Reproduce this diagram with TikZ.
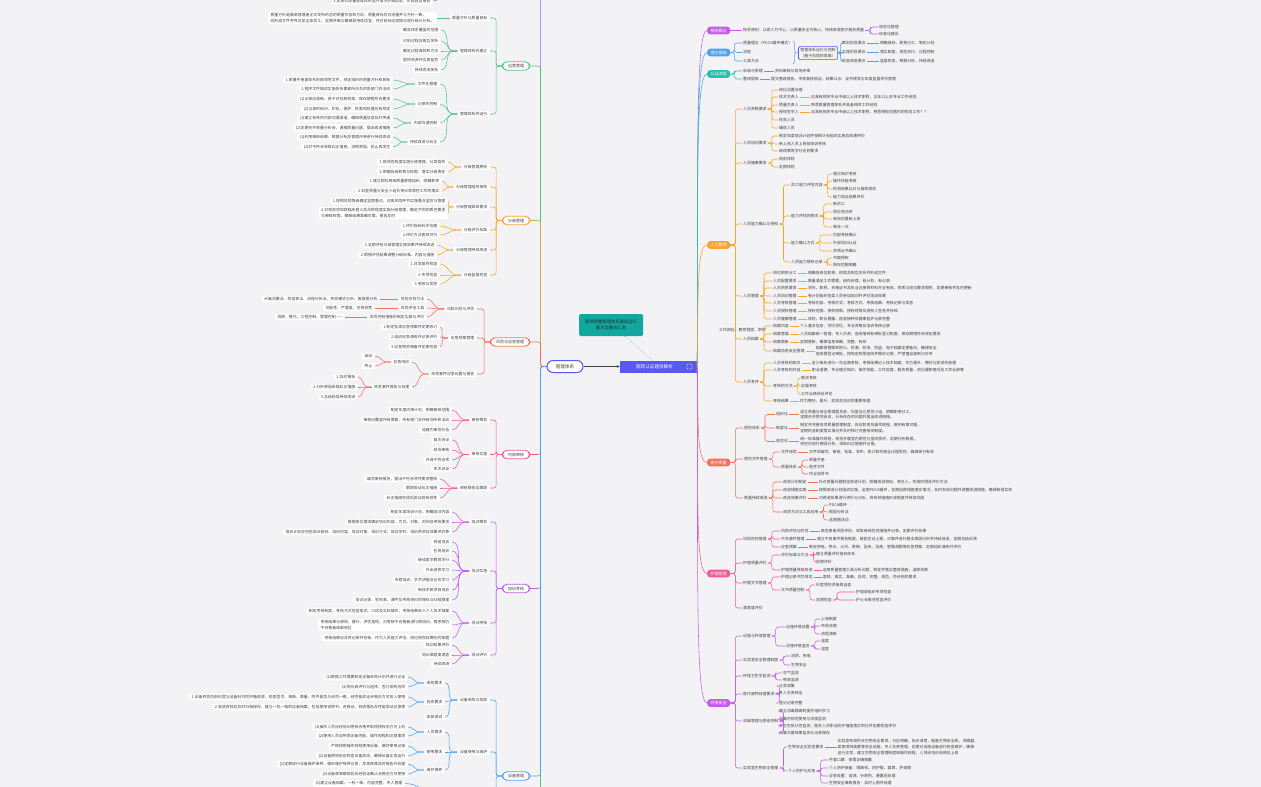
\documentclass[tikz,border=0pt]{standalone}
\usepackage{fontspec}
\newfontfamily\cjk{Noto Sans CJK SC}
\usetikzlibrary{arrows.meta,positioning,calc,decorations.pathreplacing}
\definecolor{bgGray}{RGB}{243,243,246}
\definecolor{txtGray}{RGB}{64,64,64}
\definecolor{cRoot}{RGB}{88,88,242}
\definecolor{cNote}{RGB}{18,168,160}
\definecolor{cGreen}{RGB}{86,196,136}
\definecolor{cOrange}{RGB}{246,164,52}
\definecolor{cRed}{RGB}{242,112,92}
\definecolor{cPink}{RGB}{240,92,150}
\definecolor{cPurple}{RGB}{192,96,232}
\definecolor{cBlue}{RGB}{78,162,242}
\definecolor{cTeal}{RGB}{44,190,172}
\definecolor{cLav}{RGB}{160,160,250}
\tikzset{
  txt/.style={font=\cjk\fontsize{3.9}{5.6}\selectfont, text=txtGray, inner sep=1pt},
  rtxt/.style={txt, anchor=west, align=left},
  ltxt/.style={txt, anchor=east, align=left, fill=white, rounded corners=2pt, inner xsep=2.5pt, inner ysep=1.4pt},
  rcat/.style={font=\cjk\fontsize{4}{5}\selectfont, text=white, anchor=west, rounded corners=3pt, inner xsep=3.5pt, inner ysep=2pt},
  lcat/.style={font=\cjk\fontsize{4}{5}\selectfont, text=txtGray, anchor=east, draw, fill=white, line width=0.9pt, rounded corners=4.5pt, inner xsep=5.5pt, inner ysep=2.4pt},
  rootbox/.style={font=\cjk\fontsize{4.6}{5.5}\selectfont, text=white, fill=cRoot, minimum width=77pt, minimum height=12pt, inner sep=0pt},
  sysbox/.style={font=\cjk\fontsize{4.6}{5.5}\selectfont, text=txtGray, draw=cRoot, line width=1pt, fill=white, rounded corners=6pt, minimum width=36pt, minimum height=12pt, inner sep=0pt},
  notebox/.style={font=\cjk\fontsize{4.3}{6.4}\selectfont, text=black!85, fill=cNote, rounded corners=1.5pt, minimum width=64pt, minimum height=22pt, align=center, inner sep=1pt},
  br/.style={line width=0.55pt, rounded corners=2.5pt},
  cv/.style={line width=0.55pt},
}
\begin{document}
\begin{tikzpicture}[x=1pt,y=-1pt]
\useasboundingbox (0,0) rectangle (1261,787);
\fill[bgGray] (0,0) rectangle (1261,787);
\clip (0,0) rectangle (1261,787);

% centre
\node[rootbox] (root) at (658.5,366.5) {\hspace*{6pt}医院认证题目解析\hspace*{14pt}};
\node[draw=white, line width=0.4pt, rounded corners=0.8pt, minimum size=5pt, inner sep=0pt] (rootIcon) at (689.5,366.5) {};
\node[sysbox] (sys) at (565,366.5) {管理体系};
\node[notebox] (note) at (611,325) {医院质量管理体系建设运行\\重点及要点汇总};
\draw[-{Stealth[length=3pt,width=2.6pt]}, line width=0.5pt, black!75] (sys) -- (root);
\draw[cNote, dotted, line width=0.6pt] ($(note.south)+(14,0)$) -- ($(root.north)+(-6,0)$);

% right categories
\node[rcat, fill=cPurple] (gainian) at (707,30.5) {相关概念};
\node[rcat, fill=cBlue] (lilun) at (707,52.5) {理论基础};
\node[rcat, fill=cTeal] (liucheng) at (707,74) {认证流程};
\node[rcat, fill=cOrange] (renli) at (707,245) {人力管理};
\node[rcat, fill=cRed] (yiliao) at (707,462.5) {医疗质量};
\node[rcat, fill=cPink] (huli) at (707,573.5) {护理管理};
\node[rcat, fill=cPurple] (huanjing) at (707,703) {环境安全};
\draw[cv,cPurple] (root.east) .. controls +(1,-200) and +(-12,0) .. (gainian.west);
\draw[cv,cBlue] (root.east) .. controls +(1,-190) and +(-12,0) .. (lilun.west);
\draw[cv,cTeal] (root.east) .. controls +(1,-175) and +(-12,0) .. (liucheng.west);
\draw[cv,cOrange] (root.east) .. controls +(1,-75) and +(-10,0) .. (renli.west);
\draw[cv,cRed] (root.east) .. controls +(1,58) and +(-10,0) .. (yiliao.west);
\draw[cv,cPink] (root.east) .. controls +(1,125) and +(-12,0) .. (huli.west);
\draw[cv,cPurple] (root.east) .. controls +(1,200) and +(-12,0) .. (huanjing.west);

% 相关概念
\node[rtxt] (gn1) at (742,30.5) {指导原则：以病人为中心，以质量安全为核心，持续改进医疗服务质量};
\draw[cv,cPurple] (gainian.east) -- (gn1.west);
\node[rtxt] (gn1a) at (878,27) {规范化管理};
\node[rtxt] (gn1b) at (878,34) {标准化建设};
\foreach \n in {gn1a,gn1b} \draw[br,cPurple] (gn1.east) -- ++(5,0) |- (\n.west);

% 理论基础
\foreach \y/\t [count=\i] in {43/质量理念（PDCA循环模式）, 52.5/流程, 61/工具方法} {
  \node[rtxt] (ll\i) at (742,\y) {\t};
  \draw[br,cBlue] (lilun.east) -- ++(4,0) |- (ll\i.west);
}
\draw[cBlue, line width=0.5pt, decorate, decoration={brace,amplitude=3pt}] (793,41) -- (793,64);
\coordinate (llTip) at (796.5,52.5);
\node[txt, draw=cRoot, line width=0.6pt, rounded corners=1.5pt, align=center, inner sep=2pt] (llBox) at (818,53) {管理体系运行与控制\\（基于风险的思维）};
\draw[cv,cBlue] (llTip) -- (llBox.west);
\foreach \y/\t/\u [count=\i] in {43/策划阶段要点/明确目标、职责分工、制定计划, 52.5/实施阶段要点/落实制度、规范执行、过程控制, 61/检查改进要点/监督检查、数据分析、持续改进} {
  \node[rtxt] (llk\i) at (841,\y) {\t};
  \draw[br,cBlue] (llBox.east) -- ++(2.5,0) |- (llk\i.west);
  \node[rtxt, right=12pt of llk\i] (llk\i t) {\u};
  \draw[cv,cBlue] (llk\i.east) -- (llk\i t.west);
}

% 认证流程
\node[rtxt] (lc1) at (742,71) {申请与受理};
\node[rtxt] (lc2) at (742,79) {整改提高};
\foreach \n in {lc1,lc2} \draw[br,cTeal] (liucheng.east) -- ++(4,0) |- (\n.west);
\node[rtxt, right=10pt of lc1] (lc1t) {资料审核与现场评审};
\node[rtxt, right=10pt of lc2] (lc2t) {提交整改报告、专家复核验证、结果公示、证书颁发与年度监督评价管理};
\draw[cv,cTeal] (lc1.east) -- (lc1t.west);
\draw[cv,cTeal] (lc2.east) -- (lc2t.west);

% 人力管理
\node[rtxt] (rA) at (742,109) {人员资格要求};
\node[rtxt] (rB) at (742,143) {人员培训要求};
\node[rtxt] (rC) at (742,163) {人员健康要求};
\node[rtxt] (rD) at (742,224) {人员能力确认与授权};
\node[rtxt] (rE) at (742,296) {人员管理};
\node[rtxt] (rF) at (742,339) {人员档案};
\node[rtxt] (rG) at (742,382) {人员考评};
\foreach \n in {rA,rB,rC,rD,rE,rF,rG} \draw[br,cOrange] (renli.east) -- ++(5,0) |- (\n.west);
\node[rtxt] (rX) at (718,330) {工作岗位、教育程度、职称};
\foreach \y/\t [count=\i] in {90/岗位设置合理, 97/技术负责人, 105/质量负责人, 112/授权签字人, 120/检验人员, 128/辅助人员} {
  \node[rtxt] (rA\i) at (778,\y) {\t};
  \draw[br,cOrange] (rA.east) -- ++(4,0) |- (rA\i.west);
}
\foreach \i/\u in {2/应具有相关专业中级以上技术职称，五年以上本专业工作经验, 3/熟悉质量管理体系并具备相关工作经验, 4/应具有相关专业中级以上技术职称，熟悉授权范围内的检验工作？？} {
  \node[rtxt, right=10pt of rA\i] (rA\i t) {\u};
  \draw[cv,cOrange] (rA\i.east) -- (rA\i t.west);
}
\foreach \y/\t [count=\i] in {136/制定年度培训计划并按照计划组织实施及效果评价, 144/新上岗人员上岗前培训考核, 151/继续教育学分达到要求} {
  \node[rtxt] (rB\i) at (778,\y) {\t};
  \draw[br,cOrange] (rB.east) -- ++(4,0) |- (rB\i.west);
}
\foreach \y/\t [count=\i] in {159/岗前体检, 167/定期体检} {
  \node[rtxt] (rC\i) at (778,\y) {\t};
  \draw[br,cOrange] (rC.east) -- ++(4,0) |- (rC\i.west);
}
\foreach \y/\t [count=\i] in {185/员工能力评估内容, 216/能力评估的频次, 243/能力确认方式, 262/人员能力授权记录} {
  \node[rtxt] (rD\i) at (790,\y) {\t};
  \draw[br,cOrange] (rD.east) -- ++(4,0) |- (rD\i.west);
}
\foreach \p/\y/\t in {1/174/理论知识考核, 1/181/操作技能考核, 1/189/检测结果比对与留样再测, 1/197/能力验证结果评价,
                      2/204/新员工, 2/212/岗位变动时, 2/219/离岗后重新上岗, 2/227/每年一次,
                      3/235/内部考核确认, 3/243/外部培训认证, 3/251/资质证书确认,
                      4/258/书面授权, 4/265/授权范围明确} {
  \node[rtxt] (rDl\y) at (832,\y) {\t};
  \draw[br,cOrange] (rD\p.east) -- ++(4,0) |- (rDl\y.west);
}
\foreach \y/\t/\u [count=\i] in {273/岗位职责分工/明确各岗位职责、权限及相互关系并形成文件,
                               281/人员配置要求/数量满足工作需要，结构合理，有计划，有记录,
                               288/人员资质要求/学历、职称、资格证书及执业注册等材料齐全有效，资质与岗位要求相符，定期审核并及时更新,
                               296/人员培训管理/有计划组织各类人员参加培训并评价培训效果,
                               303/人员考核管理/考核内容、考核形式、考核方式、考核结果、考核记录与奖惩,
                               311/人员授权管理/授权范围、授权权限、授权时限及授权人签名并存档,
                               319/人员健康管理/体检、职业暴露、疫苗接种及健康监护记录完整} {
  \node[rtxt] (rE\i) at (772,\y) {\t};
  \draw[br,cOrange] (rE.east) -- ++(4,0) |- (rE\i.west);
  \node[rtxt, right=9pt of rE\i] (rE\i t) {\u};
  \draw[cv,cOrange] (rE\i.east) -- (rE\i t.west);
}
\foreach \y/\t/\u [count=\i] in {326/档案内容/个人基本信息、学历学位、专业资格及培训考核记录,
                               334/档案管理/人员档案统一管理，专人负责，查阅借阅有审批登记制度，保存期限符合规定要求,
                               342/档案更新/定期更新，确保信息准确、完整、有效,
                               351/档案信息安全管理/{档案保管做到防火、防潮、防虫、防盗，电子档案定期备份，确保安全\\查阅需登记审批，按规定权限查阅并做好记录，严禁擅自复制与外传}} {
  \node[rtxt] (rF\i) at (772,\y) {\t};
  \draw[br,cOrange] (rF.east) -- ++(4,0) |- (rF\i.west);
  \node[rtxt, right=9pt of rF\i] (rF\i t) {\u};
  \draw[cv,cOrange] (rF\i.east) -- (rF\i t.west);
}
\foreach \y/\t [count=\i] in {363/人员考核的频次, 370/人员考核的内容, 386/考核的方式, 401/考核结果} {
  \node[rtxt] (rG\i) at (772,\y) {\t};
  \draw[br,cOrange] (rG.east) -- ++(4,0) |- (rG\i.west);
}
\foreach \i/\u in {1/至少每年进行一次全面考核，考核结果记入技术档案，作为晋升、聘任与奖惩的依据,
                   2/职业道德、专业理论知识、操作技能、工作态度、服务质量、岗位履职情况及工作业绩等,
                   4/作为聘任、晋升、奖惩及培训的重要依据} {
  \node[rtxt, right=9pt of rG\i] (rG\i t) {\u};
  \draw[cv,cOrange] (rG\i.east) -- (rG\i t.west);
}
\foreach \y/\t in {378/笔试考核, 386/实操考核, 394/工作业绩综合评定} {
  \node[rtxt] (rGl\y) at (800,\y) {\t};
  \draw[br,cOrange] (rG3.east) -- ++(4,0) |- (rGl\y.west);
}

% 医疗质量
\node[rtxt] (ylA) at (743,428) {质控体系};
\node[rtxt] (ylB) at (743,459) {质控文件管理};
\node[rtxt] (ylC) at (743,498) {质量持续改进};
\foreach \n in {ylA,ylB,ylC} \draw[br,cRed] (yiliao.east) -- ++(5,0) |- (\n.west);
\foreach \y/\t/\u [count=\i] in {414.5/组织化/{成立质量与安全管理委员会，科室设立质控小组，明确职责分工，\\定期召开质控会议，分析存在的问题并提出改进措施。},
                               428/制度化/{制定并完善各项质量管理制度、岗位职责及操作规程，做到有章可循，\\定期检查制度落实情况并及时修订完善相关制度。},
                               441.5/规范化/{统一标准操作规程，规范开展室内质控与室间质评，定期分析数据，\\失控时进行原因分析，采取纠正措施并记录。}} {
  \node[rtxt] (ylA\i) at (775,\y) {\t};
  \draw[br,cRed] (ylA.east) -- ++(4,0) |- (ylA\i.west);
  \node[rtxt, right=10pt of ylA\i] (ylA\i t) {\u};
  \draw[cv,cRed] (ylA\i.east) -- (ylA\i t.west);
}
\node[rtxt] (ylB1) at (780,452) {文件规范};
\node[rtxt] (ylB2) at (780,467) {质量体系};
\foreach \n in {ylB1,ylB2} \draw[br,cRed] (ylB.east) -- ++(4,0) |- (\n.west);
\node[rtxt, right=10pt of ylB1] (ylB1t) {文件的编写、审核、批准、发布、修订和作废全过程受控，确保现行有效};
\draw[cv,cRed] (ylB1.east) -- (ylB1t.west);
\foreach \y/\t in {460/质量手册, 467/程序文件, 474/作业指导书} {
  \node[rtxt] (ylBl\y) at (808,\y) {\t};
  \draw[br,cRed] (ylB2.east) -- ++(4,0) |- (ylBl\y.west);
}
\foreach \y/\t [count=\i] in {482/改进计划制定, 490/改进措施实施, 498/改进效果评价, 512/改进方法与工具应用} {
  \node[rtxt] (ylC\i) at (782,\y) {\t};
  \draw[br,cRed] (ylC.east) -- ++(4,0) |- (ylC\i.west);
}
\foreach \i/\u in {1/针对质量问题制定改进计划，明确改进目标、责任人、完成时限及评价方法,
                   2/按照改进计划组织实施，运用PDCA循环，定期追踪措施落实情况，及时发现问题并调整改进措施，确保取得实效,
                   3/对改进效果进行评价与分析，将有效措施形成制度并持续巩固} {
  \node[rtxt, right=10pt of ylC\i] (ylC\i t) {\u};
  \draw[cv,cRed] (ylC\i.east) -- (ylC\i t.west);
}
\foreach \y/\t in {505/PDCA循环, 512/根因分析法, 520/品管圈活动} {
  \node[rtxt] (ylCl\y) at (828,\y) {\t};
  \draw[br,cRed] (ylC4.east) -- ++(4,0) |- (ylCl\y.west);
}

% 护理管理
\node[rtxt] (hlA) at (742,539) {风险防控管理};
\node[rtxt] (hlB) at (742,563) {护理质量评价};
\node[rtxt] (hlC) at (742,583) {护理文书管理};
\node[rtxt] (hlD) at (742,608) {满意度评价};
\foreach \n in {hlA,hlB,hlC,hlD} \draw[br,cPink] (huli.east) -- ++(5,0) |- (\n.west);
\foreach \y/\t/\u [count=\i] in {531/风险评估与防范/高危患者风险评估，采取有效防范措施并记录，定期评价效果,
                               539/不良事件管理/建立不良事件报告制度，鼓励主动上报，对事件进行根本原因分析并持续改进，定期总结反馈,
                               547/应急预案/制定停电、停水、火灾、跌倒、坠床、压疮、管路滑脱等应急预案，定期组织演练并评价} {
  \node[rtxt] (hlA\i) at (780,\y) {\t};
  \draw[br,cPink] (hlA.east) -- ++(4,0) |- (hlA\i.west);
  \node[rtxt, right=10pt of hlA\i] (hlA\i t) {\u};
  \draw[cv,cPink] (hlA\i.east) -- (hlA\i t.west);
}
\node[rtxt] (hlB1) at (780,555) {评价标准与方法};
\node[rtxt] (hlB2) at (780,570) {护理质量持续改进};
\foreach \n in {hlB1,hlB2} \draw[br,cPink] (hlB.east) -- ++(4,0) |- (\n.west);
\foreach \y/\t in {554/建立质量评价指标体系, 562/定期评价} {
  \node[rtxt] (hlBl\y) at (815,\y) {\t};
  \draw[br,cPink] (hlB1.east) -- ++(4,0) |- (hlBl\y.west);
}
\node[rtxt, right=8pt of hlB2] (hlB2t) {运用质量管理工具分析问题，制定并落实整改措施，追踪效果};
\draw[cv,cPink] (hlB2.east) -- (hlB2t.west);
\node[rtxt] (hlC1) at (780,577) {护理记录书写规范};
\node[rtxt] (hlC2) at (780,590) {文书质量控制};
\foreach \n in {hlC1,hlC2} \draw[br,cPink] (hlC.east) -- ++(4,0) |- (\n.west);
\node[rtxt, right=8pt of hlC1] (hlC1t) {客观、真实、准确、及时、完整、规范，符合相关要求};
\draw[cv,cPink] (hlC1.east) -- (hlC1t.west);
\node[rtxt] (hlC2a) at (815,585) {科室质控员每周自查};
\node[rtxt] (hlC2b) at (815,600) {定期检查};
\foreach \n in {hlC2a,hlC2b} \draw[br,cPink] (hlC2.east) -- ++(4,0) |- (\n.west);
\foreach \y/\t in {592/护理部组织专项检查, 600/护士长每月检查评价} {
  \node[rtxt] (hlCl\y) at (855,\y) {\t};
  \draw[br,cPink] (hlC2b.east) -- ++(4,0) |- (hlCl\y.west);
}

% 环境安全
\node[rtxt] (hjA) at (742,636) {设施与环境管理};
\node[rtxt] (hjB) at (742,660) {实验室安全管理制度};
\node[rtxt] (hjC) at (742,676) {环境卫生学监测};
\node[rtxt] (hjD) at (742,694) {医疗废物处理要求};
\node[rtxt] (hjE) at (742,721) {消毒管理与感染控制};
\node[rtxt] (hjF) at (742,768) {实验室生物安全管理};
\foreach \n in {hjA,hjB,hjC,hjD,hjE,hjF} \draw[br,cPurple] (huanjing.east) -- ++(5,0) |- (\n.west);
\node[rtxt] (hjA1) at (785,627) {设施环境设置};
\node[rtxt] (hjA2) at (785,646) {设施环境监控};
\foreach \n in {hjA1,hjA2} \draw[br,cPurple] (hjA.east) -- ++(4,0) |- (\n.west);
\foreach \p/\y/\t in {1/619/上墙制度, 1/626/布局合理, 1/634/流程清晰, 2/641/温度, 2/649/湿度} {
  \node[rtxt] (hjAl\y) at (820,\y) {\t};
  \draw[br,cPurple] (hjA\p.east) -- ++(4,0) |- (hjAl\y.west);
}
\foreach \y/\t in {656/消防、用电, 665/生物安全} {
  \node[rtxt] (hjBl\y) at (790,\y) {\t};
  \draw[br,cPurple] (hjB.east) -- ++(4,0) |- (hjBl\y.west);
}
\foreach \y/\t in {673/空气监测, 680/物表监测} {
  \node[rtxt] (hjCl\y) at (782,\y) {\t};
  \draw[br,cPurple] (hjC.east) -- ++(4,0) |- (hjCl\y.west);
}
\foreach \y/\t in {686/分类收集, 693/专人负责转运, 703/登记记录完整} {
  \node[rtxt] (hjDl\y) at (778,\y) {\t};
  \draw[br,cPurple] (hjD.east) -- ++(4,0) |- (hjDl\y.west);
}
\foreach \y/\t in {711/建立消毒隔离制度并组织学习, 719/消毒剂规范使用与浓度监测, 726/手卫生依从性监测，医务人员职业防护措施落实到位并定期检查评价, 733/消毒灭菌效果监测与记录保存} {
  \node[rtxt] (hjEl\y) at (778,\y) {\t};
  \draw[br,cPurple] (hjE.east) -- ++(4,0) |- (hjEl\y.west);
}
\node[rtxt] (hjF1) at (787,747) {生物安全实验室要求};
\node[rtxt] (hjF2) at (787,771) {个人防护与应急};
\foreach \n in {hjF1,hjF2} \draw[br,cPurple] (hjF.east) -- ++(4,0) |- (\n.west);
\node[rtxt, right=12pt of hjF1] (hjF1t) {实验室布局符合生物安全要求，分区明确，标识清楚，配备生物安全柜、洗眼器、\\紧急喷淋装置等安全设施，专人负责管理，定期对设施设备进行检查维护，确保\\运行正常，建立生物安全管理制度和操作规程，人员经培训合格后上岗};
\draw[cv,cPurple] (hjF1.east) -- (hjF1t.west);
\foreach \y/\t in {760/手套口罩：按需正确佩戴, 768/个人防护装备：隔离衣、防护服、面屏、护目镜, 776/应急处置：溢洒、针刺伤、暴露后处理, 783/生物安全事故报告：及时上报并处理} {
  \node[rtxt] (hjFl\y) at (828,\y) {\t};
  \draw[br,cPurple] (hjF2.east) -- ++(4,0) |- (hjFl\y.west);
}

% left categories
\node[lcat, draw=cGreen] (yunying) at (530,66) {运营管理};
\node[lcat, draw=cOrange] (fenji) at (530,220.5) {分级管理};
\node[lcat, draw=cRed] (fengxian) at (530,342) {风险与应急管理};
\node[lcat, draw=cPink] (neishen) at (530,454.5) {内部审核};
\node[lcat, draw=cPurple] (peixun) at (530,588.5) {培训考核};
\node[lcat, draw=cBlue] (shebei) at (530,776) {设备管理};
\coordinate (topCat) at (530,-20);
\coordinate (botCat) at (530,840);
\draw[br,cLav] (sys.west) -- ++(-6,0) |- (topCat);
\draw[br,cGreen] (sys.west) -- ++(-6,0) |- (botCat);
\draw[br,cGreen] (sys.west) -- ++(-6,0) |- (yunying.east);
\draw[br,cOrange!70!cGreen] (sys.west) -- ++(-6,0) |- (fenji.east);
\draw[br,cRed] (sys.west) -- ++(-6,0) |- (fengxian.east);
\draw[br,cPink] (sys.west) -- ++(-6,0) |- (neishen.east);
\draw[br,cPurple] (sys.west) -- ++(-6,0) |- (peixun.east);
\draw[br,cBlue] (sys.west) -- ++(-6,0) |- (shebei.east);

% top leaf (branch above the picture)
\node[ltxt] (topLeaf) at (433,1) {3.定期对质量管理体系运行情况开展自查，形成自查报告};
\coordinate (topSub) at (455,-14);
\draw[cv,cBlue] (topLeaf.east) to[out=0,in=180] (topSub);

% 运营管理
\node[ltxt] (yyA) at (490,18) {质量方针与质量目标};
\node[ltxt] (yyB) at (490,51) {管理体系的建立};
\node[ltxt] (yyC) at (490,114) {管理体系的运行};
\foreach \n in {yyA,yyB,yyC} \draw[br,cGreen] (yunying.west) -- ++(-6,0) |- (\n.east);
\node[ltxt] (yyA1) at (437,18) {质量方针是最高管理者正式发布的总的质量宗旨和方向，质量目标应可测量并与方针一致，\\应形成文件并传达至全体员工，定期评审以确保其持续适宜，并对目标达成情况进行统计分析。};
\draw[cv,cGreen] (yyA.west) -- (yyA1.east);
\foreach \y/\t [count=\i] in {30/确定体系覆盖的范围, 41/识别过程及相互关系, 51/确定过程准则和方法, 60/提供资源并实施监控, 70/持续改进体系} {
  \node[ltxt] (yyB\i) at (441,\y) {\t};
  \draw[cv,cGreen] (yyB.west) -- ++(-4,0) to[out=180,in=0] (yyB\i.east);
}
\foreach \y/\t [count=\i] in {84/文件化管理, 104/记录的控制, 123/内部沟通机制, 142/持续改进与纠正} {
  \node[ltxt] (yyC\i) at (440,\y) {\t};
  \draw[cv,cGreen] (yyC.west) -- ++(-4,0) to[out=180,in=0] (yyC\i.east);
}
\foreach \p/\y/\t in {1/80/1.质量手册是体系的纲领性文件，规定组织的质量方针和目标, 1/89/2.程序文件描述实施体系要素所涉及的各部门的活动,
                      2/99/(1)记录应清晰、易于识别和检索，保存期限符合要求, 2/109/(2)记录的标识、贮存、保护、检索和处置应有规定,
                      3/118/(1)建立有效的内部沟通渠道，确保质量信息及时传递, 3/128/(2)定期召开质量分析会，通报质量问题，提出改进措施,
                      4/137/(1)利用审核结果、数据分析及管理评审进行持续改进, 4/147/(2)对不符合采取纠正措施，消除原因，防止再发生} {
  \node[ltxt] (yyCl\y) at (393,\y) {\t};
  \draw[cv,cGreen] (yyC\p.west) -- ++(-4,0) to[out=180,in=0] (yyCl\y.east);
}

% 分级管理
\foreach \y/\t [count=\i] in {167/分级管理原则, 187/分级管理组织架构, 207/分级管理具体要求, 230/分级评价标准, 250/分级管理持续改进, 275/分级监督检查} {
  \node[ltxt] (fj\i) at (490,\y) {\t};
  \draw[br,cOrange] (fenji.west) -- ++(-6,0) |- (fj\i.east);
}
\foreach \p/\y/\x/\t in {1/162/448/1.按风险程度实施分级管理，分类指导, 1/172/448/2.明确各级职责与权限，落实分级责任,
                         2/181/442/1.建立院科两级质量管理组织，明确职责, 2/191/442/2.科室质量与安全小组负责日常质控工作的落实,
                         3/201/448/1.按照风险等级确定监管重点，对高风险环节实施重点监控与管理,
                         3/213/448/{2.对检验项目按临床意义及风险程度实施分级管理，确定不同的质控要求\\与审核权限，确保结果准确可靠、报告及时},
                         4/226/440/1.评价指标科学合理, 4/235/440/2.评价方法客观可行,
                         5/245/437/1.定期评估分级管理实施效果并持续改进, 5/255/437/2.根据评估结果调整分级标准、内容与措施,
                         6/264/440/1.日常督导检查, 6/275/440/2.专项检查, 6/284/440/3.考核与奖惩} {
  \node[ltxt] (fjl\y) at (\x,\y) {\t};
  \draw[cv,cOrange] (fj\p.west) -- ++(-4,0) to[out=180,in=0] (fjl\y.east);
}

% 风险与应急管理
\node[ltxt] (fxA) at (477,309) {风险识别与评估};
\node[ltxt] (fxB) at (477,338) {应急预案管理};
\node[ltxt] (fxC) at (477,374) {突发事件应急处置与报告};
\foreach \n in {fxA,fxB,fxC} \draw[br,cRed] (fengxian.west) -- ++(-6,0) |- (\n.east);
\foreach \y/\t/\x/\u [count=\i] in {299/风险识别方法/380/头脑风暴法、检查表法、流程分析法、失效模式分析、鱼骨图分析,
                                   308/风险评估工具/375/可能性、严重度、可探测性,
                                   317/风险控制措施的制定实施与评价/345/消除、替代、工程控制、管理控制——} {
  \node[ltxt] (fxA\i) at (427,\y) {\t};
  \draw[cv,cRed] (fxA.west) -- ++(-4,0) to[out=180,in=0] (fxA\i.east);
  \node[ltxt] (fxA\i l) at (\x,\y) {\u};
  \draw[cv,cRed] (fxA\i.west) -- (fxA\i l.east);
}
\foreach \y/\t in {327/1.制定各类应急预案并定期修订, 337/2.组织应急演练并记录评价, 347/3.应急物资储备并定期检查} {
  \node[ltxt] (fxBl\y) at (440,\y) {\t};
  \draw[cv,cRed] (fxB.west) -- ++(-4,0) to[out=180,in=0] (fxBl\y.east);
}
\node[ltxt] (fxC1) at (412,362) {应急响应};
\node[ltxt] (fxC2) at (412,387) {突发事件报告与处理};
\foreach \n in {fxC1,fxC2} \draw[cv,cRed] (fxC.west) -- ++(-4,0) to[out=180,in=0] (\n.east);
\foreach \p/\y/\x/\t in {1/356/375/启动, 1/366/375/终止, 2/377/358/1.及时报告, 2/387/358/2.分析原因采取纠正措施, 2/397/358/3.总结经验持续改进} {
  \node[ltxt] (fxCl\y) at (\x,\y) {\t};
  \draw[cv,cRed] (fxC\p.west) -- ++(-4,0) to[out=180,in=0] (fxCl\y.east);
}

% 内部审核
\foreach \y/\t [count=\i] in {420/审核策划, 454.5/审核实施, 488/审核报告及跟踪} {
  \node[ltxt] (ns\i) at (490,\y) {\t};
  \draw[br,cPink] (neishen.west) -- ++(-6,0) |- (ns\i.east);
}
\foreach \p/\y/\x/\t in {1/410/452/制定年度内审计划，明确审核范围, 1/420/452/审核应覆盖所有要素、所有部门及所有场所和活动, 1/430/452/组建内审员队伍,
                         2/440/452/首次会议, 2/450/452/现场审核, 2/460/452/开具不符合项, 2/469/452/末次会议,
                         3/479/440/编写审核报告，提出不符合项并要求整改, 3/488/440/跟踪验证纠正措施, 3/498/440/纠正措施完成后验证其有效性} {
  \node[ltxt] (nsl\y) at (\x,\y) {\t};
  \draw[cv,cPink] (ns\p.west) -- ++(-4,0) to[out=180,in=0] (nsl\y.east);
}

% 培训考核
\foreach \y/\t [count=\i] in {522/培训策划, 571/培训实施, 623/培训考核, 655/培训评价} {
  \node[ltxt] (px\i) at (490,\y) {\t};
  \draw[br,cPurple] (peixun.west) -- ++(-6,0) |- (px\i.east);
}
\foreach \p/\y/\t in {1/512/制定年度培训计划，明确培训内容, 1/522/根据岗位需求确定培训内容、方式、对象、时间及考核要求,
                      1/532/培训计划应包括培训目标、培训内容、培训对象、培训方式、培训学时、培训师资及效果评价等,
                      2/542/岗前培训, 2/551/在岗培训, 2/560/继续医学教育学分, 2/570/外出进修学习, 2/580/专题培训、学术讲座及业务学习,
                      2/590/新技术新项目培训, 2/600/培训记录、签到表、课件及考核资料的保存与归档管理,
                      3/611/制定考核制度，考核方式包括笔试、口试及实际操作，考核结果纳入个人技术档案,
                      3/625/{考核结果与绩效、晋升、评优挂钩，对考核不合格者进行再培训，再考核仍\\不合格者调离岗位},
                      3/638/考核结果应及时记录并存档，作为人员能力评估、岗位授权及聘任的依据,
                      4/645/培训效果评价, 4/655/培训满意度调查, 4/664/持续改进} {
  \node[ltxt] (pxl\y) at (452,\y) {\t};
  \draw[cv,cPurple] (px\p.west) -- ++(-4,0) to[out=180,in=0] (pxl\y.east);
}

% 设备管理
\node[ltxt] (sbA) at (490,700) {设备采购与验收};
\node[ltxt] (sbB) at (490,752) {设备使用与维护};
\coordinate (sbC) at (462,815);
\foreach \n in {sbA,sbB} \draw[br,cBlue] (shebei.west) -- ++(-6,0) |- (\n.east);
\draw[br,cBlue] (shebei.west) -- ++(-6,0) |- (sbC);
\foreach \y/\t [count=\i] in {683/采购要求, 702/验收要求, 717/安装调试} {
  \node[ltxt] (sbA\i) at (445,\y) {\t};
  \draw[cv,cBlue] (sbA.west) -- ++(-4,0) to[out=180,in=0] (sbA\i.east);
}
\foreach \y/\t [count=\i] in {732/人员要求, 752/使用要求, 770/维护保养} {
  \node[ltxt] (sbB\i) at (445,\y) {\t};
  \draw[cv,cBlue] (sbB.west) -- ++(-4,0) to[out=180,in=0] (sbB\i.east);
}
\foreach \q/\p/\y/\t in {A/1/677/(1)根据工作需要制定设备采购计划并进行论证, A/1/687/(2)供应商评价与选择，签订采购合同,
                         A/2/697/1.设备到货后由科室与设备科共同开箱验收，检查型号、规格、数量、附件是否与合同一致，经性能验证合格后方可投入使用,
                         A/2/707/2.验收资料应及时归档保存，建立一机一档的设备档案，包括使用说明书、合格证、验收报告及性能验证记录等,
                         B/1/727/(1)操作人员应经培训考核合格并取得授权后方可上机, B/1/736/(2)使用人员应熟悉设备性能、操作规程和注意事项,
                         B/2/746/严格按照操作规程使用设备，做好使用记录, B/2/756/(2)设备使用前应检查设备状态，确保设备正常运行,
                         B/3/764/(1)定期进行设备维护保养，做好维护保养记录，发现故障及时报告并处理, B/3/774/(2)设备故障维修后应经验证确认合格后方可使用} {
  \node[ltxt] (sbl\y) at (408,\y) {\t};
  \draw[cv,cBlue] (sb\q\p.west) -- ++(-4,0) to[out=180,in=0] (sbl\y.east);
}
\node[ltxt] (sbCl) at (405,783.5) {(1)建立设备档案，一机一档，内容完整，专人管理};
\draw[cv,cBlue] (sbC) to[out=180,in=0] (sbCl.east);
\end{tikzpicture}
\end{document}
